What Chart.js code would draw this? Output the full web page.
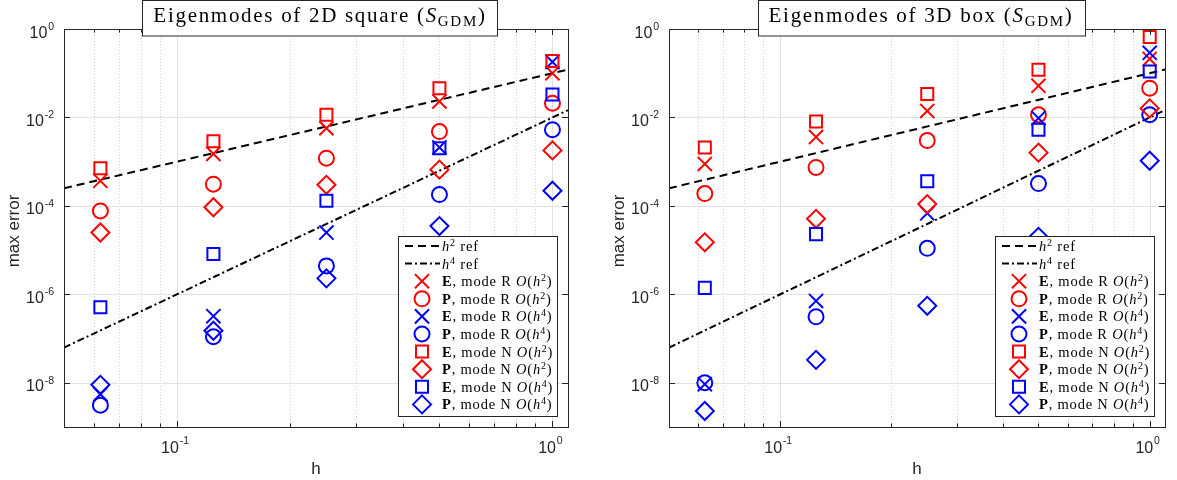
<!DOCTYPE html>
<html>
<head>
<meta charset="utf-8">
<script src="https://cdn.jsdelivr.net/npm/chart.js@4.4.1/dist/chart.umd.min.js"></script>
<style>
  body { margin: 0; background: #fff; }
  #wrap { position: relative; width: 1177px; height: 480px; }
  .panel { position: absolute; top: 0; height: 480px; }
</style>
</head>
<body>
<div id="wrap">
  <div class="panel" style="left:0;width:590px"><canvas id="chart2d" width="590" height="480"></canvas></div>
  <div class="panel" style="left:590px;width:587px"><canvas id="chart3d" width="587" height="480"></canvas></div>
</div>
<script>
// mesh sizes
const hValues = [0.0625, 0.125, 0.25, 0.5, 1];

// reference lines (end points)
const refH = [0.05, 1.1];
const refH2 = [2.5e-4, 0.121];
const refH4 = [6.25e-8, 0.0146];

// ticks
const xTickExps = [-1, 0];
const yTickExps = [0, -2, -4, -6, -8];
const xMinorTicks = [0.06, 0.07, 0.08, 0.09, 0.2, 0.3, 0.4, 0.5, 0.6, 0.7, 0.8, 0.9];

// legend text pieces for the 8 series
const seriesField = ['E', 'P', 'E', 'P', 'E', 'P', 'E', 'P'];
const seriesMode = ['R', 'R', 'R', 'R', 'N', 'N', 'N', 'N'];
const seriesOrder = ['2', '2', '4', '4', '2', '2', '4', '4'];

// 2D square
const sq_ER2 = [3.7e-4, 1.5e-3, 5.7e-3, 2.3e-2, 0.10];
const sq_PR2 = [7.7e-5, 3.1e-4, 1.2e-3, 4.8e-3, 2.1e-2];
const sq_ER4 = [5.5e-9, 3.2e-7, 2.5e-5, 2.1e-3, 0.18];
const sq_PR4 = [3.1e-9, 1.1e-7, 4.4e-6, 1.8e-4, 5.3e-3];
const sq_EN2 = [7.1e-4, 2.9e-3, 1.15e-2, 4.6e-2, 0.19];
const sq_PN2 = [2.5e-5, 9.3e-5, 3.0e-4, 6.6e-4, 1.8e-3];
const sq_EN4 = [5.1e-7, 8.2e-6, 1.3e-4, 2.0e-3, 3.3e-2];
const sq_PN4 = [9.0e-9, 1.5e-7, 2.3e-6, 3.5e-5, 2.2e-4];

// 3D box
const box_ER2 = [8.9e-4, 3.6e-3, 1.4e-2, 5.2e-2, 0.21];
const box_PR2 = [1.9e-4, 7.4e-4, 3.0e-3, 1.15e-2, 4.6e-2];
const box_ER4 = [9.3e-9, 7.1e-7, 6.8e-5, 9.6e-3, 0.29];
const box_PR4 = [1.0e-8, 3.1e-7, 1.1e-5, 3.2e-4, 1.15e-2];
const box_EN2 = [2.1e-3, 8.1e-3, 3.4e-2, 0.12, 0.66];
const box_PN2 = [1.5e-5, 5.1e-5, 1.1e-4, 1.6e-3, 1.6e-2];
const box_EN4 = [1.4e-6, 2.3e-5, 3.6e-4, 5.3e-3, 0.11];
const box_PN4 = [2.3e-9, 3.3e-8, 5.5e-7, 2.0e-5, 1.05e-3];

// styles
const RED = '#ff0000', BLUE = '#0000ff';
const markerColor = [RED, RED, BLUE, BLUE, RED, RED, BLUE, BLUE];
const markerStyle = ['crossRot', 'circle', 'crossRot', 'circle', 'rect', 'rectRot', 'rect', 'rectRot'];
const markerRadius = { crossRot: 10, circle: 7.5, rect: 8.5, rectRot: 9 };

const SERIF = "'Liberation Serif', 'Times New Roman', serif";
const SANS = "'Liberation Sans', Arial, Helvetica, sans-serif";
const AXIS_COLOR = '#262626';

function line(ctx, x1, y1, x2, y2) {
    ctx.beginPath();
    ctx.moveTo(x1, y1);
    ctx.lineTo(x2, y2);
    ctx.stroke();
}

function runsWidth(ctx, runs) {
    let w = 0;
    runs.forEach(r => { ctx.font = r.font; w += ctx.measureText(r.t).width; });
    return w;
}

function drawRuns(ctx, x, y, runs) {
    let cx = x;
    runs.forEach(r => {
        ctx.font = r.font;
        ctx.fillText(r.t, cx, y + (r.dy || 0));
        cx += ctx.measureText(r.t).width;
    });
}

// marker used in the legend, same shapes as chart.js point styles
function drawMarker(ctx, style, r, x, y) {
    ctx.beginPath();
    if (style === 'circle') {
        ctx.arc(x, y, r, 0, Math.PI * 2);
    } else if (style === 'rect') {
        const s = Math.SQRT1_2 * r;
        ctx.rect(x - s, y - s, 2 * s, 2 * s);
    } else if (style === 'rectRot') {
        ctx.moveTo(x - r, y);
        ctx.lineTo(x, y + r);
        ctx.lineTo(x + r, y);
        ctx.lineTo(x, y - r);
        ctx.closePath();
    } else {
        const o = Math.SQRT1_2 * r;
        ctx.moveTo(x - o, y - o);
        ctx.lineTo(x + o, y + o);
        ctx.moveTo(x - o, y + o);
        ctx.lineTo(x + o, y - o);
    }
    ctx.stroke();
}

function legendRuns(ds) {
    const f = 14.5;
    const reg = f + 'px ' + SERIF;
    const ital = 'italic ' + f + 'px ' + SERIF;
    const sup = '10px ' + SERIF;
    if (ds.refPower) {
        return [{ t: 'h', font: ital }, { t: ds.refPower, font: sup, dy: -5 }, { t: ' ref', font: reg }];
    }
    const k = ds.seriesIndex;
    return [
        { t: seriesField[k], font: 'bold ' + f + 'px ' + SERIF },
        { t: ', mode ' + seriesMode[k] + ' ', font: reg },
        { t: 'O', font: ital },
        { t: '(', font: reg },
        { t: 'h', font: ital },
        { t: seriesOrder[k], font: sup, dy: -5 },
        { t: ')', font: reg }
    ];
}

const matlabAxes = {
    id: 'matlabAxes',
    beforeDatasetsDraw(chart) {
        const { ctx, chartArea: a, scales: { x, y } } = chart;
        ctx.save();
        ctx.lineWidth = 1;
        // minor grid (dotted)
        ctx.strokeStyle = '#cfcfcf';
        ctx.setLineDash([1, 2]);
        xMinorTicks.forEach(v => {
            const px = Math.round(x.getPixelForValue(v)) + 0.5;
            line(ctx, px, a.top, px, a.bottom);
        });
        // major grid
        ctx.setLineDash([]);
        ctx.strokeStyle = '#e2e2e2';
        xTickExps.forEach(e => {
            const px = Math.round(x.getPixelForValue(Math.pow(10, e))) + 0.5;
            line(ctx, px, a.top, px, a.bottom);
        });
        yTickExps.forEach(e => {
            const py = Math.round(y.getPixelForValue(Math.pow(10, e))) + 0.5;
            line(ctx, a.left, py, a.right, py);
        });
        ctx.restore();
    },
    afterDatasetsDraw(chart, args, opts) {
        const { ctx, chartArea: a, scales: { x, y } } = chart;
        ctx.save();

        // box and ticks
        ctx.strokeStyle = AXIS_COLOR;
        ctx.lineWidth = 1;
        ctx.strokeRect(Math.round(a.left) + 0.5, Math.round(a.top) + 0.5,
            Math.round(a.right - a.left), Math.round(a.bottom - a.top));
        yTickExps.forEach(e => {
            const py = Math.round(y.getPixelForValue(Math.pow(10, e))) + 0.5;
            line(ctx, a.left, py, a.left + 6, py);
            line(ctx, a.right, py, a.right - 6, py);
        });
        xTickExps.forEach(e => {
            const px = Math.round(x.getPixelForValue(Math.pow(10, e))) + 0.5;
            line(ctx, px, a.bottom, px, a.bottom - 6);
            line(ctx, px, a.top, px, a.top + 6);
        });
        xMinorTicks.forEach(v => {
            const px = Math.round(x.getPixelForValue(v)) + 0.5;
            line(ctx, px, a.bottom, px, a.bottom - 3.5);
            line(ctx, px, a.top, px, a.top + 3.5);
        });

        // tick labels
        ctx.fillStyle = AXIS_COLOR;
        ctx.textAlign = 'left';
        ctx.textBaseline = 'alphabetic';
        const baseFont = '16px ' + SANS;
        const expFont = '10.5px ' + SANS;
        yTickExps.forEach(e => {
            const py = y.getPixelForValue(Math.pow(10, e));
            const runs = [{ t: '10', font: baseFont, dy: 8.5 }, { t: ' ', font: '3px ' + SANS }, { t: String(e), font: expFont, dy: 1 }];
            const w = runsWidth(ctx, runs);
            drawRuns(ctx, a.left - 10 - w, py, runs);
        });
        xTickExps.forEach(e => {
            const px = x.getPixelForValue(Math.pow(10, e));
            const runs = [{ t: '10', font: baseFont, dy: 26 }, { t: ' ', font: '3px ' + SANS }, { t: String(e), font: expFont, dy: 17 }];
            const w = runsWidth(ctx, runs);
            drawRuns(ctx, px - 2 - w / 2, a.bottom, runs);
        });

        // axis titles
        ctx.font = '17px ' + SANS;
        ctx.textAlign = 'center';
        ctx.fillText('h', (a.left + a.right) / 2, a.bottom + 47);
        ctx.save();
        ctx.translate(a.left - 50, (a.top + a.bottom) / 2 + 3);
        ctx.rotate(-Math.PI / 2);
        ctx.textBaseline = 'middle';
        ctx.fillText('max error', 0, 0);
        ctx.restore();

        // legend
        const lw = 159, lh = 180;
        const lx = Math.round(a.right - 11 - lw), ly = Math.round(a.bottom - 11 - lh);
        ctx.fillStyle = '#fff';
        ctx.fillRect(lx, ly, lw, lh);
        ctx.strokeStyle = AXIS_COLOR;
        ctx.lineWidth = 1;
        ctx.strokeRect(lx + 0.5, ly + 0.5, lw, lh);
        ctx.textAlign = 'left';
        ctx.letterSpacing = '0.8px';
        chart.data.datasets.forEach((ds, i) => {
            const ry = ly + 10 + i * 17.6;
            ctx.strokeStyle = ds.borderColor;
            if (ds.refPower) {
                ctx.lineWidth = ds.borderWidth;
                ctx.setLineDash(ds.borderDash);
                line(ctx, lx + 7, ry, lx + 42, ry);
                ctx.setLineDash([]);
            } else {
                ctx.lineWidth = ds.pointBorderWidth;
                drawMarker(ctx, ds.pointStyle, ds.pointRadius, lx + 24, ry);
            }
            ctx.fillStyle = '#000';
            drawRuns(ctx, lx + 44, ry + 5, legendRuns(ds));
        });

        // title box
        const tf = 21;
        const titleRuns = [
            { t: opts.title + ' (', font: tf + 'px ' + SERIF },
            { t: 'S', font: 'italic ' + tf + 'px ' + SERIF },
            { t: 'GDM', font: '15px ' + SERIF, dy: 4 },
            { t: ')', font: tf + 'px ' + SERIF }
        ];
        ctx.letterSpacing = '1.7px';
        const tw = runsWidth(ctx, titleRuns);
        const cx = (a.left + a.right) / 2 + 4;
        const bx = Math.round(cx - tw / 2 - 11), bw = Math.round(tw + 22);
        ctx.fillStyle = '#fff';
        ctx.fillRect(bx, 0, bw, 36);
        ctx.strokeStyle = AXIS_COLOR;
        ctx.lineWidth = 1;
        ctx.strokeRect(bx + 0.5, 0.5, bw, 35.5);
        ctx.fillStyle = '#000';
        drawRuns(ctx, cx - tw / 2, 22, titleRuns);
        ctx.letterSpacing = '0px';

        ctx.restore();
    }
};

function buildChart(canvasId, title, series, padding) {
    const datasets = [
        {
            refPower: '2',
            data: refH.map((v, i) => ({ x: v, y: refH2[i] })),
            showLine: true, borderColor: '#000', borderWidth: 2, borderDash: [8, 5],
            pointRadius: 0, order: 20
        },
        {
            refPower: '4',
            data: refH.map((v, i) => ({ x: v, y: refH4[i] })),
            showLine: true, borderColor: '#000', borderWidth: 2, borderDash: [7, 3, 2, 3],
            pointRadius: 0, order: 20
        }
    ];
    series.forEach((vals, k) => {
        datasets.push({
            seriesIndex: k,
            data: hValues.map((v, i) => ({ x: v, y: vals[i] })),
            showLine: false,
            pointStyle: markerStyle[k],
            pointRadius: markerRadius[markerStyle[k]],
            pointHoverRadius: markerRadius[markerStyle[k]],
            pointBorderWidth: 2,
            borderColor: markerColor[k],
            pointBorderColor: markerColor[k],
            pointBackgroundColor: 'rgba(0,0,0,0)',
            backgroundColor: 'rgba(0,0,0,0)',
            order: 8 - k
        });
    });

    new Chart(document.getElementById(canvasId).getContext('2d'), {
        type: 'scatter',
        data: { datasets: datasets },
        options: {
            responsive: false,
            animation: false,
            events: [],
            layout: { padding: padding },
            plugins: {
                legend: { display: false },
                tooltip: { enabled: false },
                matlabAxes: { title: title }
            },
            scales: {
                x: { type: 'logarithmic', min: 0.05, max: 1.1, bounds: 'data', display: false },
                y: { type: 'logarithmic', min: 1e-9, max: 1, bounds: 'data', display: false }
            }
        },
        plugins: [matlabAxes]
    });
}

buildChart('chart2d', 'Eigenmodes of 2D square',
    [sq_ER2, sq_PR2, sq_ER4, sq_PR4, sq_EN2, sq_PN2, sq_EN4, sq_PN4],
    { left: 64, right: 22, top: 29, bottom: 53 });

buildChart('chart3d', 'Eigenmodes of 3D box',
    [box_ER2, box_PR2, box_ER4, box_PR4, box_EN2, box_PN2, box_EN4, box_PN4],
    { left: 79, right: 5, top: 29, bottom: 53 });
</script>
</body>
</html>
